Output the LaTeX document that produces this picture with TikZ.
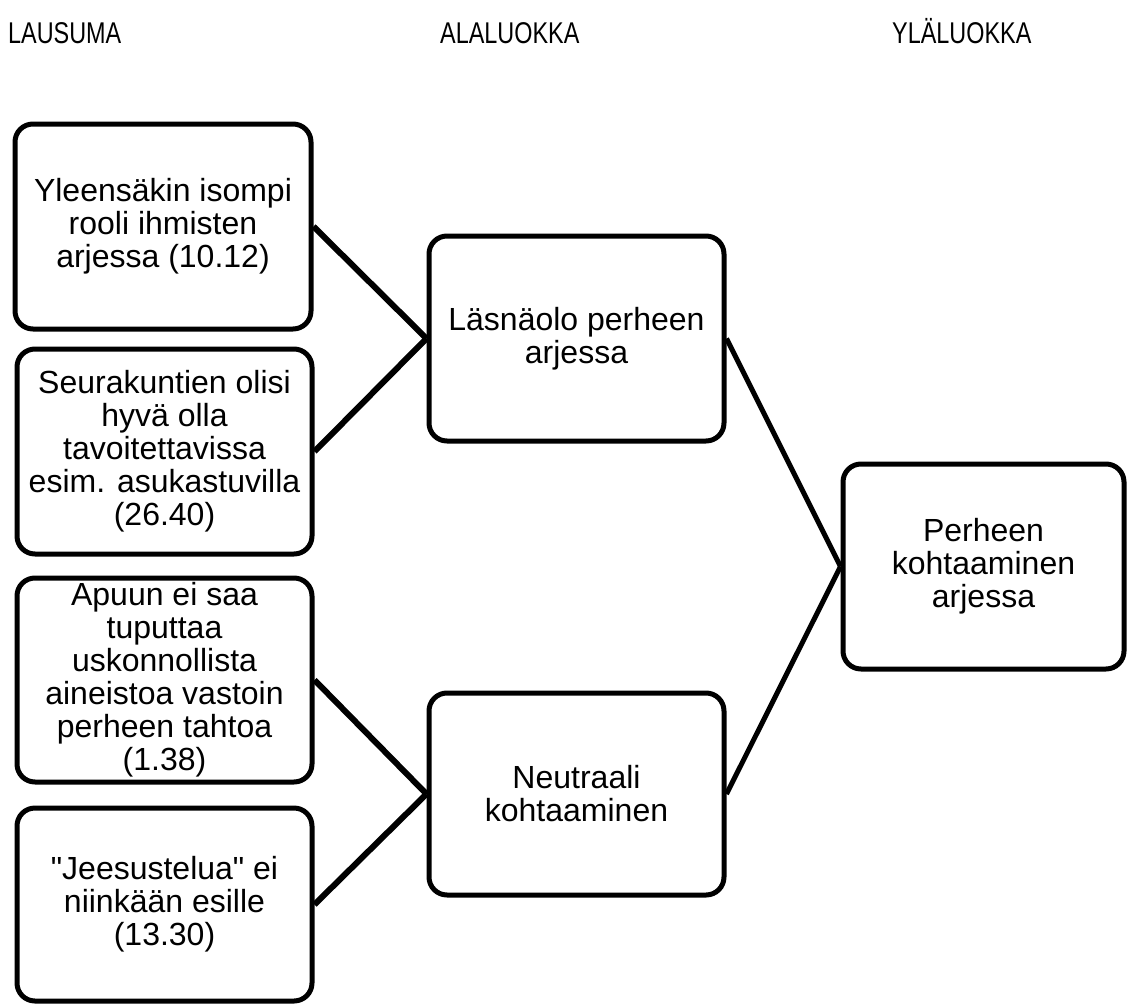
\documentclass[tikz,border=0pt]{standalone}
\usepackage{fontspec}
\usepackage{graphicx}
\setmainfont{Liberation Sans}
\newfontfamily\plainsans{Liberation Sans}
\begin{document}
\begin{tikzpicture}[x=1pt,y=-1pt,
  box/.style={draw=black, line width=5pt, rounded corners=18pt, fill=white,
    inner sep=0pt, align=center, font=\fontsize{32}{33}\selectfont},
  hdr/.style={anchor=base west, inner sep=0pt, font=\fontsize{30}{32}\selectfont},
  link/.style={line width=6pt},
  link2/.style={line width=5pt}]
\useasboundingbox (0,0) rectangle (1127,1004);
% headers
\node[hdr] (h1) at (8,43) {\scalebox{0.78}[1]{LAUSUMA}};
\node[hdr] (h2) at (440,43) {\scalebox{0.78}[1]{ALALUOKKA}};
\node[hdr] (h3) at (892,43) {\scalebox{0.78}[1]{YLÄLUOKKA}};
% statement boxes
\node[box, minimum width=296pt, minimum height=205pt] (b1) at (163,226.5)
  {Yleensäkin isompi\\rooli ihmisten\\arjessa (10.12)};
\node[box, minimum width=295pt, minimum height=205pt] (b2) at (164.5,451.5)
  {Seurakuntien olisi\\hyvä olla\\tavoitettavissa\\esim. asukastuvilla\\(26.40)};
\node[box, minimum width=295pt, minimum height=204pt] (b3) at (164.5,680)
  {Apuun ei saa\\tuputtaa\\uskonnollista\\aineistoa vastoin\\perheen tahtoa\\(1.38)};
\node[box, minimum width=295pt, minimum height=193pt] (b4) at (164.5,904.5)
  {{\plainsans "Jeesustelua" ei}\\niinkään esille\\(13.30)};
% subcategory boxes
\node[box, minimum width=295pt, minimum height=205pt] (a) at (576.5,338.5)
  {Läsnäolo perheen\\arjessa};
\node[box, minimum width=295pt, minimum height=202pt] (b) at (576.5,794)
  {Neutraali\\kohtaaminen};
% main category box
\node[box, minimum width=281pt, minimum height=205pt] (r) at (983.5,566.5)
  {Perheen\\kohtaaminen\\arjessa};
% connectors
\draw[link] (b1.east) -- (a.west);
\draw[link] (b2.east) -- (a.west);
\draw[link] (b3.east) -- (b.west);
\draw[link] (b4.east) -- (b.west);
\draw[link2] (a.east) -- (r.west);
\draw[link2] (b.east) -- (r.west);
\end{tikzpicture}
\end{document}
